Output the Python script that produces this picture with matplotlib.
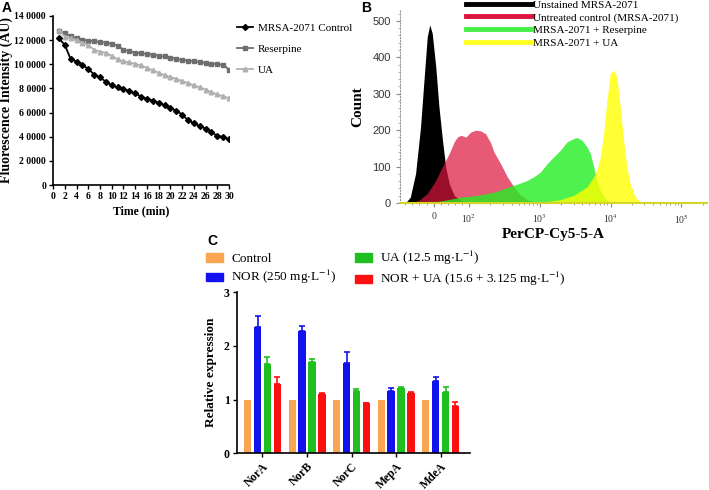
import numpy as np
import matplotlib
matplotlib.use('Agg')
import matplotlib.pyplot as plt
from matplotlib.patches import Patch
from matplotlib.lines import Line2D
from matplotlib.ticker import FuncFormatter

plt.rcParams['font.family'] = 'Liberation Serif'
plt.rcParams['mathtext.fontset'] = 'stix'

# ---- Panel A: fluorescence over time ----
time = list(range(1, 31))
control = [121500, 116000, 104400, 102200, 99100, 96400, 91400, 89200, 85600, 82600,
           80900, 79300, 78100, 75900, 73200, 71500, 69900, 68200, 66000, 63800,
           61600, 58300, 53800, 51100, 48900, 46700, 43900, 40600, 40000, 37800]
reserpine = [127500, 125500, 123500, 121500, 120500, 119500, 119000, 118500, 118000, 117000,
             115500, 112000, 111000, 109500, 109000, 108500, 108000, 107000, 106500, 105500,
             104500, 103500, 103000, 102500, 102000, 101000, 100500, 100000, 99500, 95500]
ua = [128500, 123000, 121500, 120000, 118000, 116000, 112000, 110500, 109500, 107000,
      104000, 102500, 101500, 100500, 99000, 97000, 95000, 93000, 91000, 89500,
      88000, 86000, 84500, 82500, 81000, 79000, 77000, 75000, 73500, 72000]

# ---- Panel B: flow cytometry histograms (PerCP-Cy5-5-A, count) ----
unstained_x = [-80, -66, -51, -37, -28, -18, -11, -4, 6, 15, 25, 34, 44, 58, 77, 95]
unstained_y = [0, 16, 81, 209, 328, 457, 489, 466, 374, 264, 172, 99, 53, 21, 7, 0]
untreated_x = [-66, -42, -18, 6, 29, 44, 58, 67, 77, 91, 106, 124, 146, 172, 202, 225,
               279, 347, 431, 535, 664, 823, 1020]
untreated_y = [0, 7, 26, 62, 108, 136, 168, 181, 186, 181, 195, 200, 198, 190, 165, 140,
               108, 72, 44, 21, 9, 3, 0]
reserp_x = [-18, 29, 77, 131, 225, 311, 431, 535, 664, 823, 1021, 1267, 1574, 1954, 2426,
            3012, 3357, 3948, 4642, 5175, 5768, 6429, 7150, 8410, 9890, 11020]
reserp_y = [0, 7, 16, 21, 30, 39, 49, 55, 62, 72, 85, 108, 127, 145, 168,
            177, 180, 172, 154, 136, 99, 62, 35, 12, 3, 0]
ua_x = [1137, 1954, 3012, 4642, 5768, 6429, 7150, 7960, 8870, 9890, 11020, 12270, 13680,
        15240, 16980, 18920, 22240, 26180, 30760]
ua_y = [3, 9, 21, 44, 72, 90, 127, 191, 282, 356, 365, 347, 264, 172, 99, 53, 16, 3, 0]

# ---- Panel C: relative expression ----
genes = ['NorA', 'NorB', 'NorC', 'MepA', 'MdeA']
expr_control = [1.0, 1.0, 1.0, 1.0, 1.0]
expr_nor = [2.35, 2.28, 1.69, 1.17, 1.35]
err_nor = [0.21, 0.09, 0.19, 0.04, 0.07]
expr_ua = [1.66, 1.70, 1.16, 1.21, 1.15]
err_ua = [0.13, 0.06, 0.03, 0.02, 0.08]
expr_combo = [1.29, 1.10, 0.93, 1.13, 0.88]
err_combo = [0.14, 0.03, 0.01, 0.02, 0.07]

fig = plt.figure(figsize=(7.09, 4.90), dpi=100)

# Panel A
ax_a = fig.add_axes([0.0748, 0.6224, 0.2483, 0.345])
ax_a.plot(time, control, '-D', color='black', ms=3, lw=1.3, label='MRSA-2071 Control')
ax_a.plot(time, reserpine, '-s', color='#6e6e6e', ms=3.3, lw=1.3, label='Reserpine')
ax_a.plot(time, ua, '-^', color='#b0b0b0', ms=3.3, lw=1.3, label='UA')
ax_a.set_xlim(0, 30)
ax_a.set_ylim(0, 140000)
ax_a.set_xticks(range(0, 31, 2))
ax_a.set_yticks(range(0, 140001, 20000))
ax_a.yaxis.set_major_formatter(FuncFormatter(lambda v, p: '0' if v == 0 else f'{int(v / 10000)} 0000'))
for lab in ax_a.get_xticklabels() + ax_a.get_yticklabels():
    lab.set_fontweight('bold')
ax_a.tick_params(labelsize=7, length=3, width=1, pad=2)
for s in ['top', 'right']:
    ax_a.spines[s].set_visible(False)
for s in ['left', 'bottom']:
    ax_a.spines[s].set_linewidth(1.2)
ax_a.set_xlabel('Time (min)', fontsize=8.5, fontweight='bold', labelpad=3)
ax_a.set_ylabel('Fluorescence Intensity (AU)', fontsize=10, fontweight='bold', labelpad=1)
fig.legend(handles=ax_a.get_lines(), loc='upper left', bbox_to_anchor=(237 / 709, 1 - 23 / 490),
           frameon=False, fontsize=8, handlelength=1.4, handletextpad=0.5, labelspacing=1.0,
           borderpad=0, borderaxespad=0)

# Panel B
ax_b = fig.add_axes([0.5642, 0.5857, 0.433, 0.3939])
ax_b.set_xscale('symlog', linthresh=100, linscale=0.45)
ax_b.fill_between(unstained_x, unstained_y, color='black', lw=0)
ax_b.fill_between(untreated_x, untreated_y, color='#dc143c', alpha=0.7, lw=0)
ax_b.fill_between(reserp_x, reserp_y, color='#22ee22', alpha=0.8, lw=0)
ax_b.fill_between(ua_x, ua_y, color='#ffff00', alpha=0.8, lw=0)
ax_b.set_xlim(-95, 2.3e5)
ax_b.set_ylim(0, 530)
ax_b.set_xticks([0, 1e2, 1e3, 1e4, 1e5])
ax_b.set_xticklabels(['0', '10$^2$', '10$^3$', '10$^4$', '10$^5$'])
minor = [-80, -60, -40, -20, 20, 40, 60, 80]
for d in [2, 3, 4]:
    minor += [k * 10 ** d for k in range(2, 10)]
minor += [2e5]
ax_b.set_xticks(minor, minor=True)
ax_b.set_yticks(range(0, 501, 100))
ax_b.set_yticks(range(0, 521, 20), minor=True)
for lab in ax_b.get_yticklabels():
    lab.set_family('Liberation Sans')
ax_b.tick_params(axis='y', labelsize=8, labelcolor='#333333', length=3, color='#888888')
ax_b.tick_params(axis='y', which='minor', length=1.5, color='#aaaaaa')
ax_b.tick_params(axis='x', labelsize=7, labelcolor='#333333', length=3, color='#888888')
ax_b.tick_params(axis='x', which='minor', length=1.5, color='#888888')
for s in ['top', 'right']:
    ax_b.spines[s].set_visible(False)
ax_b.spines['left'].set_linestyle(':')
ax_b.spines['left'].set_color('#999999')
ax_b.spines['bottom'].set_color('#d4d42a')
ax_b.spines['bottom'].set_linewidth(1.5)
ax_b.set_xlabel('PerCP-Cy5-5-A', fontsize=11, fontweight='bold', labelpad=2)
ax_b.set_ylabel('Count', fontsize=11, fontweight='bold', labelpad=6)
b_handles = [Line2D([], [], color=c, lw=3.5) for c in ['black', '#dc143c', '#44ee44', '#ffff22']]
b_labels = ['Unstained MRSA-2071', 'Untreated control (MRSA-2071)',
            'MRSA-2071 + Reserpine', 'MRSA-2071 + UA']
fig.legend(b_handles, b_labels, loc='upper left', bbox_to_anchor=(466 / 709, 1.0),
           frameon=False, fontsize=8, handlelength=5.9, handletextpad=0.15, labelspacing=0.25,
           borderpad=0, borderaxespad=0)

# Panel C
ax_c = fig.add_axes([0.3338, 0.0749, 0.3291, 0.3286])
x = np.arange(len(genes))
step, w = 0.222, 0.165
series = [(expr_control, None, '#f9a552'), (expr_nor, err_nor, '#1212ee'),
          (expr_ua, err_ua, '#1fbf1f'), (expr_combo, err_combo, '#fb0f0f')]
for i, (vals, errs, col) in enumerate(series):
    pos = x + (i - 1.5) * step
    if errs is None:
        ax_c.bar(pos, vals, w, color=col)
    else:
        ax_c.bar(pos, vals, w, color=col, yerr=[np.zeros(len(errs)), errs], capsize=2,
                 error_kw=dict(ecolor=col, elinewidth=1.2, capthick=1.2))
ax_c.set_xlim(-0.58, 4.66)
ax_c.set_ylim(0, 3)
ax_c.set_yticks([0, 1, 2, 3])
ax_c.set_xticks(x)
ax_c.set_xticklabels(genes, rotation=45, ha='right', rotation_mode='anchor')
for lab in ax_c.get_xticklabels() + ax_c.get_yticklabels():
    lab.set_fontweight('bold')
ax_c.tick_params(labelsize=8.5, length=3, width=1, pad=2)
for s in ['top', 'right']:
    ax_c.spines[s].set_visible(False)
for s in ['left', 'bottom']:
    ax_c.spines[s].set_linewidth(1.2)
ax_c.set_ylabel('Relative expression', fontsize=9.5, fontweight='bold', labelpad=5)
c_handles = [Patch(color=s[2]) for s in series]
c_labels = ['Control', r'NOR (250 mg$\cdot$L$^{-1}$)', r'UA (12.5 mg$\cdot$L$^{-1}$)',
            r'NOR + UA (15.6 + 3.125 mg$\cdot$L$^{-1}$)']
fig.legend(c_handles, c_labels, ncol=2, loc='upper left', bbox_to_anchor=(206 / 709, 1 - 249 / 490),
           frameon=False, fontsize=9.5, handlelength=1.3, handleheight=0.6, handletextpad=0.6,
           labelspacing=0.25, columnspacing=1.4, borderpad=0, borderaxespad=0)

# panel letters
fig.text(2 / 709, 1 - 1 / 490, 'A', family='Liberation Sans', fontweight='bold', fontsize=10, va='top')
fig.text(361 / 709, 1 - 1 / 490, 'B', family='Liberation Sans', fontweight='bold', fontsize=10, va='top')
fig.text(207 / 709, 1 - 234 / 490, 'C', family='Liberation Sans', fontweight='bold', fontsize=10, va='top')

fig.savefig('out.png', dpi=100)
